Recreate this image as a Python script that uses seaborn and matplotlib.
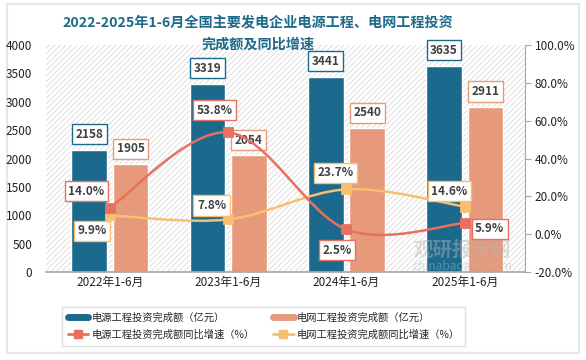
import matplotlib
matplotlib.use("Agg")
import matplotlib.pyplot as plt
import seaborn as sns
import pandas as pd
import numpy as np
from matplotlib.path import Path
from matplotlib.patches import PathPatch, Rectangle
from matplotlib.lines import Line2D

categories = ["2022年1-6月", "2023年1-6月", "2024年1-6月", "2025年1-6月"]
power_source = [2158, 3319, 3441, 3635]
power_grid = [1905, 2054, 2540, 2911]
source_growth = [14.0, 53.8, 2.5, 5.9]
grid_growth = [9.9, 7.8, 23.7, 14.6]
s_bar = "电源工程投资完成额（亿元）"
s_grid = "电网工程投资完成额（亿元）"
s_sg = "电源工程投资完成额同比增速（%）"
s_gg = "电网工程投资完成额同比增速（%）"

C_BLUE = "#1B6A8E"
C_ORANGE = "#E69A7B"
C_RED = "#E8705F"
C_YEL = "#F9BF70"
C_TXT = "#404040"

sns.set_theme(style="white")
plt.rcParams['font.family'] = ['Noto Sans CJK SC', 'DejaVu Sans']
plt.rcParams['hatch.linewidth'] = 0.6
plt.rcParams['hatch.color'] = '#D9D9D9'

fig = plt.figure(figsize=(5.86, 3.6), dpi=100)
fig.patch.set_facecolor("white")
fig.add_artist(Rectangle((0.012, 0.02), 0.976, 0.97, transform=fig.transFigure,
                         facecolor="white", edgecolor="#E6E6E6", lw=1.5, zorder=-5))
ax = fig.add_axes([0.0785, 0.2444, 0.8175, 0.6306])
ax.set_facecolor("none")

df = pd.DataFrame({
    "cat": categories * 2,
    "val": power_source + power_grid,
    "series": [s_bar] * 4 + [s_grid] * 4,
})
sns.barplot(data=df, x="cat", y="val", hue="series", order=categories,
            hue_order=[s_bar, s_grid], palette=[C_BLUE, C_ORANGE], saturation=1,
            width=0.7, gap=0.14, edgecolor="white", linewidth=1.0,
            ax=ax, legend=False, zorder=2)

ax.set_xlim(-0.54, 3.51)
ax.set_ylim(0, 4000)
ax.set_yticks(np.arange(0, 4001, 500))
ax.set_xlabel("")
ax.set_ylabel("")
ax.tick_params(axis="both", length=0, labelsize=8.5, colors="#222222", pad=3)
ax.tick_params(axis="y", pad=10)
for s in ["left", "right", "top"]:
    ax.spines[s].set_visible(False)
ax.spines["bottom"].set_color("#A6A6A6")
ax.spines["bottom"].set_linewidth(1.2)
ax.add_patch(Rectangle((0, 0), 1, 1, transform=ax.transAxes, facecolor="white",
                       edgecolor="#DADADA", hatch="//////", lw=0, zorder=0))

# watermark (inside axes, above bars)
ax.text(0.87, 0.095, "观研报告网", transform=ax.transAxes, fontsize=14,
        fontweight="bold", color="#B5B5B5", alpha=0.45, ha="center", va="center", zorder=5)
ax.text(0.87, 0.025, "chinabaogao.com", transform=ax.transAxes, fontsize=8.5,
        color="#B5B5B5", alpha=0.45, ha="center", va="center", zorder=5)

# bar value labels
bars_blue = ax.containers[0]
bars_or = ax.containers[1]
for cont, vals, col in [(bars_blue, power_source, C_BLUE), (bars_or, power_grid, C_ORANGE)]:
    for b, v in zip(cont, vals):
        ax.annotate(f"{v}", (b.get_x() + b.get_width() / 2, v), xytext=(0, 11),
                    textcoords="offset points", ha="center", va="center",
                    fontsize=8.5, fontweight="bold", color=C_TXT, zorder=6,
                    bbox=dict(boxstyle="square,pad=0.3", fc="white", ec=col, lw=1.0))

ax2 = ax.twinx()
ax2.set_ylim(-20, 100)
ax2.set_yticks(np.arange(-20, 101, 20))
ax2.set_yticklabels([f"{t:.1f}%" for t in np.arange(-20, 101, 20)])
ax2.tick_params(axis="y", length=4, width=0.8, labelsize=8.5, pad=3,
                color="#A6A6A6", labelcolor="#222222")
for s in ["left", "top", "bottom"]:
    ax2.spines[s].set_visible(False)
ax2.spines["right"].set_color("#A6A6A6")
ax2.spines["right"].set_linewidth(0.8)
ax2.grid(False)
ax.grid(False)

xs = np.arange(len(categories))


def smooth_path(x, y):
    pts = np.column_stack([x, y]).astype(float)
    ext = np.vstack([pts[0], pts, pts[-1]])
    verts = [tuple(pts[0])]
    codes = [Path.MOVETO]
    for i in range(len(pts) - 1):
        p0, p1, p2, p3 = ext[i], ext[i + 1], ext[i + 2], ext[i + 3]
        c1 = p1 + (p2 - p0) / 6.0
        c2 = p2 - (p3 - p1) / 6.0
        verts += [tuple(c1), tuple(c2), tuple(p2)]
        codes += [Path.CURVE4] * 3
    return Path(verts, codes)


for vals, col in [(grid_growth, C_YEL), (source_growth, C_RED)]:
    ax2.add_patch(PathPatch(smooth_path(xs, vals), fc="none", ec=col, lw=1.8, zorder=3))
    sns.scatterplot(x=xs, y=vals, ax=ax2, marker="s", s=55, color=col,
                    edgecolor=col, zorder=4, legend=False)

# line labels: (dx, dy) offsets in points
red_off = [(-17, 12), (-10, 16), (-7, -15), (18, -4)]
yel_off = [(-13, -11), (-12, 10), (-8, 12), (-11, 11)]
for vals, offs, col in [(source_growth, red_off, C_RED), (grid_growth, yel_off, C_YEL)]:
    for x, v, (dx, dy) in zip(xs, vals, offs):
        ax2.annotate(f"{v:.1f}%", (x, v), xytext=(dx, dy), textcoords="offset points",
                     ha="center", va="center", fontsize=8.5, fontweight="bold",
                     color=C_TXT, zorder=7,
                     bbox=dict(boxstyle="square,pad=0.3", fc="white", ec=col, lw=1.0))

fig.text(0.44, 0.935, "2022-2025年1-6月全国主要发电企业电源工程、电网工程投资",
         fontsize=10.2, fontweight="bold", color="#1F6A8A", ha="center", va="center")
fig.text(0.44, 0.877, "完成额及同比增速",
         fontsize=10.2, fontweight="bold", color="#1F6A8A", ha="center", va="center")

handles = [
    Line2D([0], [0], color=C_BLUE, lw=5),
    Line2D([0], [0], color=C_RED, lw=2, marker="s", markersize=6),
    Line2D([0], [0], color=C_ORANGE, lw=5),
    Line2D([0], [0], color=C_YEL, lw=2, marker="s", markersize=6),
]
fig.legend(handles, [s_bar, s_sg, s_grid, s_gg], ncol=2, loc="center",
           bbox_to_anchor=(0.45, 0.094), fontsize=7.4, frameon=True, edgecolor="#D9D9D9",
           fancybox=False, handlelength=2.0, columnspacing=1.8, labelspacing=0.7,
           borderpad=0.55, handletextpad=0.3)

fig.savefig("out.png", dpi=100, facecolor="white")
